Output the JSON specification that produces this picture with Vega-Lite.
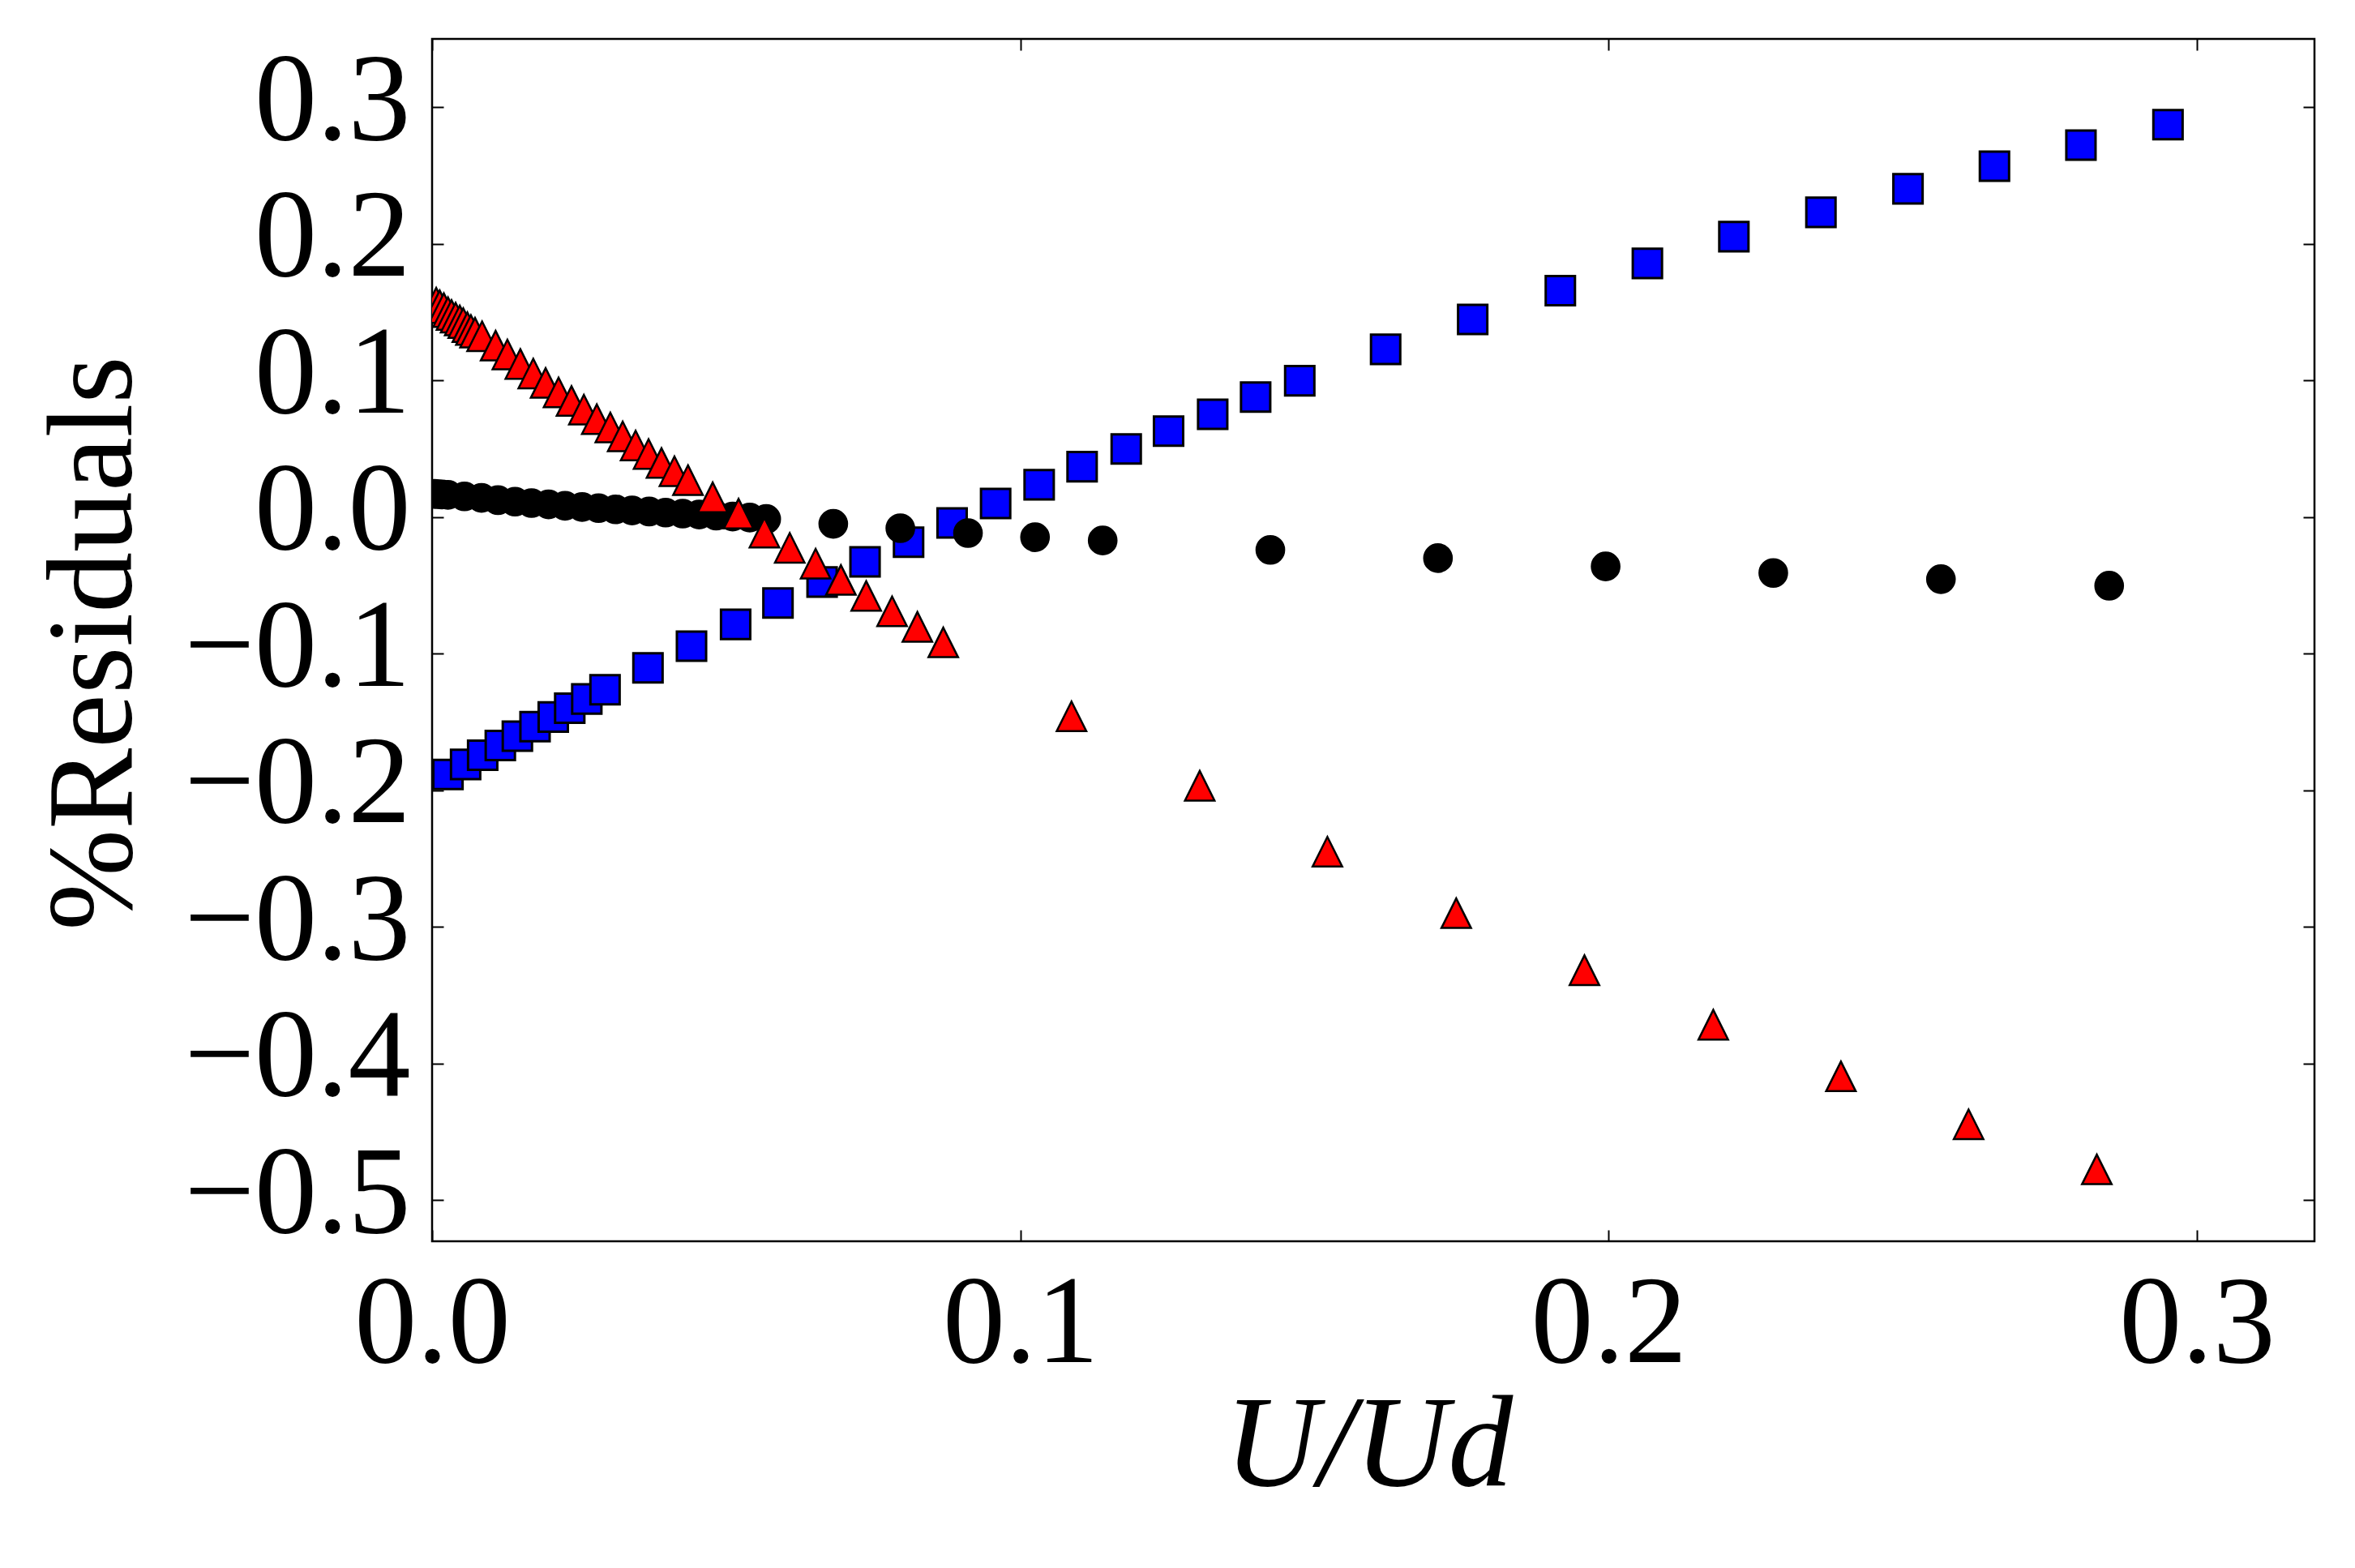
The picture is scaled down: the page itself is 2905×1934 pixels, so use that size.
{
  "$schema": "https://vega.github.io/schema/vega-lite/v6.json",
  "autosize": {"type": "none"},
  "padding": {"left": 533, "top": 48, "right": 50, "bottom": 403},
  "width": 2322,
  "height": 1483,
  "background": "white",
  "config": {
    "view": {"stroke": "black", "strokeWidth": 2.5},
    "axis": {"grid": false, "domain": false}
  },
  "datasets": {
    "squares": [
      {"u": 0.0027, "r": -0.1884}, {"u": 0.0057, "r": -0.1810}, {"u": 0.0086, "r": -0.1743},
      {"u": 0.0116, "r": -0.1671}, {"u": 0.0145, "r": -0.1603}, {"u": 0.0175, "r": -0.1534},
      {"u": 0.0206, "r": -0.1463}, {"u": 0.0234, "r": -0.1399}, {"u": 0.0263, "r": -0.1331},
      {"u": 0.0294, "r": -0.1264}, {"u": 0.0367, "r": -0.1103}, {"u": 0.0441, "r": -0.0944},
      {"u": 0.0516, "r": -0.0785}, {"u": 0.0588, "r": -0.0629}, {"u": 0.0663, "r": -0.0475},
      {"u": 0.0736, "r": -0.0327}, {"u": 0.0810, "r": -0.0184}, {"u": 0.0884, "r": -0.0043},
      {"u": 0.0958, "r": 0.0100}, {"u": 0.1032, "r": 0.0237}, {"u": 0.1105, "r": 0.0369},
      {"u": 0.1180, "r": 0.0499}, {"u": 0.1252, "r": 0.0629}, {"u": 0.1327, "r": 0.0753},
      {"u": 0.1400, "r": 0.0879}, {"u": 0.1475, "r": 0.0998}, {"u": 0.1621, "r": 0.1228},
      {"u": 0.1769, "r": 0.1447}, {"u": 0.1918, "r": 0.1657}, {"u": 0.2066, "r": 0.1857},
      {"u": 0.2213, "r": 0.2053}, {"u": 0.2361, "r": 0.2231}, {"u": 0.2509, "r": 0.2403},
      {"u": 0.2656, "r": 0.2568}, {"u": 0.2803, "r": 0.2723}, {"u": 0.2951, "r": 0.2872}
    ],
    "circles": [
      {"u": 0.0004, "r": 0.0170}, {"u": 0.0010, "r": 0.0168}, {"u": 0.0017, "r": 0.0166},
      {"u": 0.0027, "r": 0.0163}, {"u": 0.0055, "r": 0.0152}, {"u": 0.0084, "r": 0.0141},
      {"u": 0.0112, "r": 0.0124}, {"u": 0.0141, "r": 0.0113}, {"u": 0.0169, "r": 0.0103},
      {"u": 0.0198, "r": 0.0093}, {"u": 0.0226, "r": 0.0083}, {"u": 0.0255, "r": 0.0074},
      {"u": 0.0283, "r": 0.0066}, {"u": 0.0312, "r": 0.0057}, {"u": 0.0340, "r": 0.0049},
      {"u": 0.0369, "r": 0.0041}, {"u": 0.0397, "r": 0.0033}, {"u": 0.0426, "r": 0.0026},
      {"u": 0.0454, "r": 0.0019}, {"u": 0.0483, "r": 0.0011}, {"u": 0.0511, "r": 0.0004},
      {"u": 0.0540, "r": -0.0003}, {"u": 0.0568, "r": -0.0014},
      {"u": 0.0682, "r": -0.0049}, {"u": 0.0796, "r": -0.0081}, {"u": 0.0911, "r": -0.0117},
      {"u": 0.1025, "r": -0.0147}, {"u": 0.1140, "r": -0.0171}, {"u": 0.1425, "r": -0.0240},
      {"u": 0.1710, "r": -0.0300}, {"u": 0.1995, "r": -0.0361}, {"u": 0.2280, "r": -0.0409},
      {"u": 0.2565, "r": -0.0454}, {"u": 0.2851, "r": -0.0502}
    ],
    "triangles": [
      {"u": 0.0007, "r": 0.157}, {"u": 0.0013, "r": 0.155}, {"u": 0.0020, "r": 0.153},
      {"u": 0.0027, "r": 0.150}, {"u": 0.0033, "r": 0.148}, {"u": 0.0040, "r": 0.146},
      {"u": 0.0047, "r": 0.144}, {"u": 0.0053, "r": 0.142}, {"u": 0.0060, "r": 0.139},
      {"u": 0.0066, "r": 0.137}, {"u": 0.0073, "r": 0.135},
      {"u": 0.0085, "r": 0.1324}, {"u": 0.0108, "r": 0.1255}, {"u": 0.0128, "r": 0.1190},
      {"u": 0.0150, "r": 0.1121}, {"u": 0.0172, "r": 0.1051}, {"u": 0.0193, "r": 0.0982},
      {"u": 0.0215, "r": 0.0913}, {"u": 0.0237, "r": 0.0850}, {"u": 0.0258, "r": 0.0787},
      {"u": 0.0280, "r": 0.0717}, {"u": 0.0303, "r": 0.0656}, {"u": 0.0324, "r": 0.0591},
      {"u": 0.0346, "r": 0.0524}, {"u": 0.0368, "r": 0.0462}, {"u": 0.0390, "r": 0.0396},
      {"u": 0.0412, "r": 0.0336}, {"u": 0.0435, "r": 0.0271},
      {"u": 0.0477, "r": 0.0145}, {"u": 0.0521, "r": 0.0025}, {"u": 0.0565, "r": -0.0114},
      {"u": 0.0608, "r": -0.0225}, {"u": 0.0652, "r": -0.0341}, {"u": 0.0695, "r": -0.0460},
      {"u": 0.0738, "r": -0.0577}, {"u": 0.0782, "r": -0.0689}, {"u": 0.0825, "r": -0.0803},
      {"u": 0.0869, "r": -0.0917}, {"u": 0.1087, "r": -0.1458}, {"u": 0.1305, "r": -0.1966},
      {"u": 0.1522, "r": -0.2449}, {"u": 0.1741, "r": -0.2899}, {"u": 0.1959, "r": -0.3316},
      {"u": 0.2178, "r": -0.3715}, {"u": 0.2395, "r": -0.4093}, {"u": 0.2612, "r": -0.4444},
      {"u": 0.2830, "r": -0.4774}
    ]
  },
  "resolve": {"axis": {"x": "independent", "y": "independent"}},
  "layer": [
    {
      "data": {"name": "squares"},
      "mark": {"type": "point", "shape": "square", "filled": true, "fill": "#0000ff", "stroke": "black", "strokeWidth": 3, "size": 1300, "opacity": 1, "clip": true},
      "encoding": {
        "x": {
          "field": "u", "type": "quantitative",
          "scale": {"domain": [0, 0.32], "nice": false, "zero": false},
          "axis": {
            "orient": "bottom", "values": [0, 0.1, 0.2, 0.3], "format": ".1f",
            "tickSize": -14, "tickWidth": 2, "tickColor": "black",
            "labelFont": "Liberation Serif", "labelFontSize": 154, "labelColor": "black",
            "labelPadding": 40, "labelFlush": false, "labelOverlap": false, "labelLimit": 2000,
            "title": "U/Ud", "titleFont": "Liberation Serif", "titleFontSize": 160,
            "titleFontStyle": "italic", "titleFontWeight": "normal", "titleColor": "black",
            "titleX": 1155, "titleY": 300, "titleBaseline": "alphabetic", "titleAlign": "center", "titleLimit": 3000
          }
        },
        "y": {
          "field": "r", "type": "quantitative",
          "scale": {"domain": [-0.53, 0.35], "nice": false, "zero": false},
          "axis": {
            "orient": "left", "values": [-0.5, -0.4, -0.3, -0.2, -0.1, 0, 0.1, 0.2, 0.3], "format": ".1f",
            "tickSize": -14, "tickWidth": 2, "tickColor": "black",
            "labelFont": "Liberation Serif", "labelFontSize": 154, "labelColor": "black",
            "labelPadding": 41, "labelOffset": -7, "labelOverlap": false, "labelFlush": false, "labelLimit": 2000,
            "title": "%Residuals", "titleFont": "Liberation Serif", "titleFontSize": 150,
            "titleFontWeight": "normal", "titleColor": "black", "titleAngle": -90,
            "titleX": -372, "titleY": 745, "titleBaseline": "alphabetic", "titleAlign": "center", "titleLimit": 3000
          }
        }
      }
    },
    {
      "data": {"name": "circles"},
      "mark": {"type": "point", "shape": "circle", "filled": true, "fill": "black", "stroke": "black", "strokeWidth": 2, "size": 1200, "opacity": 1, "clip": true},
      "encoding": {
        "x": {
          "field": "u", "type": "quantitative",
          "axis": {"orient": "top", "values": [0, 0.1, 0.2, 0.3], "tickSize": -14, "tickWidth": 2, "tickColor": "black", "labels": false, "title": null}
        },
        "y": {
          "field": "r", "type": "quantitative",
          "axis": {"orient": "right", "values": [-0.5, -0.4, -0.3, -0.2, -0.1, 0, 0.1, 0.2, 0.3], "tickSize": -14, "tickWidth": 2, "tickColor": "black", "labels": false, "title": null}
        }
      }
    },
    {
      "data": {"name": "triangles"},
      "mark": {"type": "point", "shape": "M0,-1L1,1L-1,1Z", "filled": true, "fill": "#ff0000", "stroke": "black", "strokeWidth": 2.5, "size": 1330, "opacity": 1, "clip": true},
      "encoding": {
        "x": {"field": "u", "type": "quantitative", "axis": null},
        "y": {"field": "r", "type": "quantitative", "axis": null}
      }
    }
  ]
}
